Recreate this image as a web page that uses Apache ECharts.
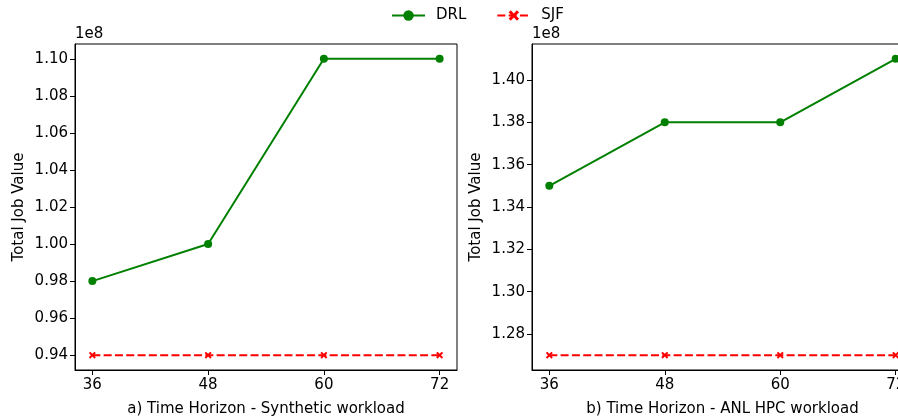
<!DOCTYPE html>
<html>
<head>
<meta charset="utf-8">
<script src="https://cdn.jsdelivr.net/npm/echarts@6/dist/echarts.min.js"></script>
<style>
  html, body { margin: 0; padding: 0; background: #fff; }
  #chart { width: 898px; height: 420px; }
</style>
</head>
<body>
<div id="chart"></div>
<script>
// horizons (hours)
const horizons = [36, 48, 60, 72];

// total job value, in units of 1e8
const drlSynthetic = [0.98, 1.00, 1.10, 1.10];
const sjfSynthetic = [0.94, 0.94, 0.94, 0.94];
const drlAnl = [1.35, 1.38, 1.38, 1.41];
const sjfAnl = [1.27, 1.27, 1.27, 1.27];

const yTicksSynthetic = [0.94, 0.96, 0.98, 1.00, 1.02, 1.04, 1.06, 1.08, 1.10];
const yTicksAnl = [1.28, 1.30, 1.32, 1.34, 1.36, 1.38, 1.40];

const FONT = 'DejaVu Sans';
const FS = 15;
const xMark = 'path://M0,2 L2,0 L5,3 L8,0 L10,2 L7,5 L10,8 L8,10 L5,7 L2,10 L0,8 L3,5 Z';

const pairs = (ys) => horizons.map((x, i) => [x, ys[i]]);

// matplotlib-like 5% margins
const pad = (lo, hi) => [lo - (hi - lo) * 0.05, hi + (hi - lo) * 0.05];

const makeX = (idx, title) => ({
  type: 'value',
  gridIndex: idx,
  min: pad(36, 72)[0],
  max: pad(36, 72)[1],
  name: title,
  nameLocation: 'middle',
  nameGap: 32,
  nameTextStyle: { fontFamily: FONT, fontSize: FS, color: '#000' },
  axisLine: { show: true, onZero: false, lineStyle: { color: '#000', width: 1 } },
  axisTick: { show: true, length: 5, customValues: horizons, lineStyle: { color: '#000' } },
  axisLabel: { fontFamily: FONT, fontSize: FS, color: '#000', margin: 8, customValues: horizons },
  splitLine: { show: false }
});

const makeY = (idx, lo, hi, ticks) => ({
  type: 'value',
  gridIndex: idx,
  min: pad(lo, hi)[0],
  max: pad(lo, hi)[1],
  name: 'Total Job Value',
  nameLocation: 'middle',
  nameGap: 48,
  nameTextStyle: { fontFamily: FONT, fontSize: FS, color: '#000' },
  axisLine: { show: true, lineStyle: { color: '#000', width: 1 } },
  axisTick: { show: true, length: 5, customValues: ticks, lineStyle: { color: '#000' } },
  axisLabel: {
    fontFamily: FONT, fontSize: FS, color: '#000', margin: 7,
    customValues: ticks,
    formatter: (v) => v.toFixed(2)
  },
  splitLine: { show: false }
});

const drlSeries = (idx, ys) => ({
  name: 'DRL',
  type: 'line',
  xAxisIndex: idx,
  yAxisIndex: idx,
  data: pairs(ys),
  symbol: 'circle',
  symbolSize: 8,
  color: '#008000',
  lineStyle: { color: '#008000', width: 2 },
  itemStyle: { color: '#008000' },
  animation: false
});

const sjfSeries = (idx, ys) => ({
  name: 'SJF',
  type: 'line',
  xAxisIndex: idx,
  yAxisIndex: idx,
  data: pairs(ys),
  symbol: xMark,
  symbolSize: 7,
  color: '#ff0000',
  lineStyle: { color: '#ff0000', width: 2, type: [8, 3.3] },
  itemStyle: { color: '#ff0000' },
  animation: false
});

const chart = echarts.init(document.getElementById('chart'), null, { renderer: 'canvas' });

chart.setOption({
  backgroundColor: '#fff',
  animation: false,
  textStyle: { fontFamily: FONT },
  legend: {
    top: 3,
    left: 386,
    itemWidth: 33,
    itemHeight: 13,
    itemGap: 30,
    textStyle: { fontFamily: FONT, fontSize: FS, color: '#000', padding: [0, 0, 0, 6] },
    data: ['DRL', 'SJF']
  },
  graphic: [
    { type: 'text', left: 75, top: 27, style: { text: '1e8', font: FS + 'px "DejaVu Sans"', fill: '#000' } },
    { type: 'text', left: 532, top: 27, style: { text: '1e8', font: FS + 'px "DejaVu Sans"', fill: '#000' } }
  ],
  // the right panel runs past the page edge, as in the original
  grid: [
    { left: 75, top: 44, width: 382, height: 326, outerBoundsMode: 'none', show: true, borderColor: '#000', borderWidth: 1, backgroundColor: 'transparent' },
    { left: 532, top: 44, width: 381, height: 326, outerBoundsMode: 'none', show: true, borderColor: '#000', borderWidth: 1, backgroundColor: 'transparent' }
  ],
  xAxis: [
    makeX(0, 'a) Time Horizon - Synthetic workload'),
    makeX(1, 'b) Time Horizon - ANL HPC workload')
  ],
  yAxis: [
    makeY(0, 0.94, 1.10, yTicksSynthetic),
    makeY(1, 1.27, 1.41, yTicksAnl)
  ],
  series: [
    drlSeries(0, drlSynthetic),
    sjfSeries(0, sjfSynthetic),
    drlSeries(1, drlAnl),
    sjfSeries(1, sjfAnl)
  ]
});
</script>
</body>
</html>
